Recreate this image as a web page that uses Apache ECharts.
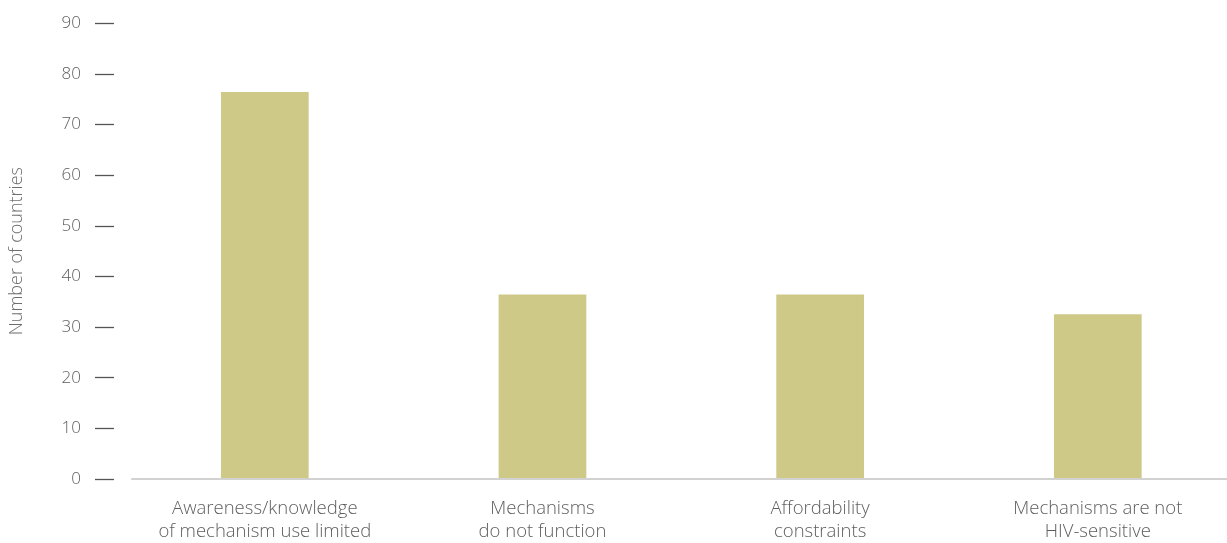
<!DOCTYPE html>
<html>
<head>
<meta charset="utf-8">
<script src="https://cdn.jsdelivr.net/npm/echarts@6/dist/echarts.min.js"></script>
<style>
html,body{margin:0;padding:0;background:#fff;}
#chart{width:1227px;height:543px;}
</style>
</head>
<body>
<div id="chart"></div>
<script>
const categories = [
  "Awareness/knowledge\nof mechanism use limited",
  "Mechanisms\ndo not function",
  "Affordability\nconstraints",
  "Mechanisms are not\nHIV-sensitive"
];
const values = [76.4, 36.3, 36.3, 32.4];
const yAxisName = "Number of countries";

const FONT = "'Open Sans'";
const chart = echarts.init(document.getElementById('chart'), null, {renderer: 'canvas'});
chart.setOption({
  animation: false,
  backgroundColor: '#ffffff',
  grid: [
    {left: 264.8, right: 129.2, top: 23.3, bottom: 64},
    {left: 130, right: 0, top: 23.3, bottom: 64}
  ],
  xAxis: [{
    type: 'category',
    gridIndex: 0,
    data: categories,
    boundaryGap: false,
    axisLine: {show: false},
    axisTick: {show: false},
    axisLabel: {
      color: '#5e5e5e', fontFamily: FONT, fontWeight: 300, fontSize: 18.5, lineHeight: 23, margin: 19, interval: 0
    }
  }, {
    type: 'value',
    gridIndex: 1,
    min: 0, max: 1,
    axisLine: {show: true, onZero: false, lineStyle: {color: '#c4c4c4', width: 1.5}},
    axisTick: {show: false},
    axisLabel: {show: false},
    splitLine: {show: false}
  }],
  yAxis: [{
    type: 'value',
    gridIndex: 1,
    min: 0, max: 90, interval: 10,
    offset: 17.7,
    name: yAxisName,
    nameLocation: 'middle',
    nameGap: 88,
    nameTextStyle: {color: '#6e6e6e', fontFamily: FONT, fontWeight: 300, fontSize: 18},
    axisLine: {show: false, onZero: false},
    axisTick: {show: true, length: 19, lineStyle: {color: '#555555', width: 1.3}},
    splitLine: {show: false},
    axisLabel: {color: '#5e5e5e', fontFamily: FONT, fontWeight: 300, fontSize: 17, margin: 33}
  }, {
    type: 'value',
    gridIndex: 0,
    min: 0, max: 90, interval: 10,
    show: false
  }],
  series: [{
    type: 'bar',
    xAxisIndex: 0,
    yAxisIndex: 1,
    data: values,
    barWidth: 87.7,
    itemStyle: {color: '#cfc987'}
  }]
});
</script>
</body>
</html>
